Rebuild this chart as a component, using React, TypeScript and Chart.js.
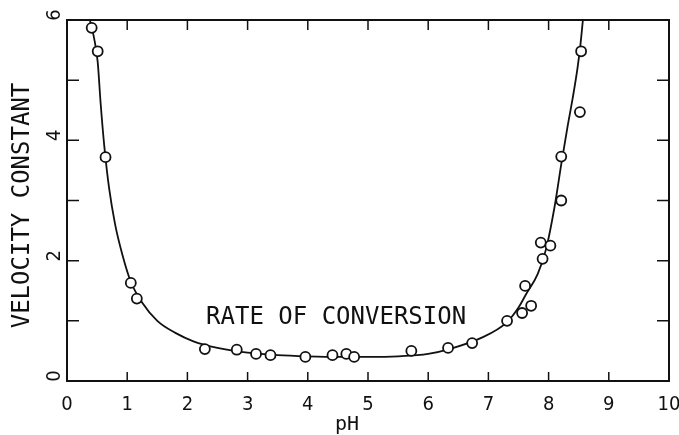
import React, { useEffect, useRef } from 'react';
import { Chart, registerables } from 'chart.js';

Chart.register(...registerables);

// Measured points (pH, velocity constant)
const pointPH = [0.41, 0.51, 0.64, 1.06, 1.16, 2.29, 2.82, 3.14, 3.38, 3.96, 4.41, 4.64, 4.77, 5.72, 6.33, 6.73, 7.31, 7.56, 7.61, 7.71, 7.87, 7.90, 8.03, 8.21, 8.21, 8.52, 8.54];
const pointK = [5.87, 5.48, 3.72, 1.63, 1.37, 0.53, 0.52, 0.45, 0.43, 0.40, 0.43, 0.45, 0.40, 0.50, 0.55, 0.63, 1.00, 1.13, 1.58, 1.25, 2.30, 2.03, 2.25, 3.00, 3.73, 4.47, 5.48];

// Hand-drawn fitted curve
const curvePH = [0.38, 0.45, 0.51, 0.56, 0.62, 0.70, 0.80, 0.92, 1.06, 1.25, 1.5, 1.8, 2.1, 2.5, 3.0, 3.5, 4.0, 4.5, 5.0, 5.5, 6.0, 6.35, 6.89, 7.30, 7.50, 7.63, 7.82, 7.96, 8.10, 8.21, 8.31, 8.40, 8.48, 8.53, 8.57];
const curveK = [6.0, 5.7, 5.3, 4.6, 3.9, 3.2, 2.6, 2.1, 1.65, 1.3, 1.0, 0.8, 0.66, 0.55, 0.47, 0.43, 0.41, 0.40, 0.40, 0.41, 0.45, 0.53, 0.72, 0.97, 1.22, 1.45, 1.78, 2.2, 2.9, 3.6, 4.2, 4.7, 5.2, 5.6, 6.0];

const xTickValues = [0, 1, 2, 3, 4, 5, 6, 7, 8, 9, 10];
const yTickValues = [0, 1, 2, 3, 4, 5, 6];
const yLabelValues = [0, 2, 4, 6];
const yTitle = 'VELOCITY CONSTANT';
const xTitle = 'pH';
const annotationText = 'RATE OF CONVERSION';
const annotationPH = 4.47;
const annotationK = 1.05;

const MONO = '"DejaVu Sans Mono", monospace';
const COND = '"DejaVu Sans Condensed", "DejaVu Sans", sans-serif';

const framePlugin = {
  id: 'frameAndText',
  afterDraw(chart: any) {
    const { ctx, chartArea: a } = chart;
    const xs = chart.scales.x;
    const ys = chart.scales.y;
    ctx.save();
    ctx.strokeStyle = '#111';
    ctx.fillStyle = '#111';
    ctx.lineWidth = 2;
    ctx.strokeRect(a.left, a.top, a.right - a.left, a.bottom - a.top);
    ctx.lineWidth = 1.5;
    ctx.beginPath();
    xTickValues.slice(1, -1).forEach((v) => {
      const px = xs.getPixelForValue(v);
      ctx.moveTo(px, a.bottom);
      ctx.lineTo(px, a.bottom - 9);
      ctx.moveTo(px, a.top);
      ctx.lineTo(px, a.top + 10);
    });
    yTickValues.slice(1, -1).forEach((v) => {
      const py = ys.getPixelForValue(v);
      ctx.moveTo(a.left, py);
      ctx.lineTo(a.left + 12, py);
      ctx.moveTo(a.right, py);
      ctx.lineTo(a.right - 12, py);
    });
    ctx.stroke();

    // rotated y tick labels
    ctx.font = `20px ${COND}`;
    ctx.textAlign = 'center';
    ctx.textBaseline = 'middle';
    yLabelValues.forEach((v) => {
      const py = ys.getPixelForValue(v);
      ctx.save();
      ctx.translate(a.left - 12, py - 5);
      ctx.rotate(-Math.PI / 2);
      ctx.fillText(String(v), 0, 0);
      ctx.restore();
    });

    // y title
    ctx.font = `24px ${MONO}`;
    ctx.save();
    ctx.translate(23, (a.top + a.bottom) / 2 + 5);
    ctx.rotate(-Math.PI / 2);
    ctx.fillText(yTitle, 0, 0);
    ctx.restore();

    // annotation
    ctx.fillText(annotationText, xs.getPixelForValue(annotationPH), ys.getPixelForValue(annotationK));

    // x title
    ctx.font = `20px ${MONO}`;
    ctx.fillText(xTitle, xs.getPixelForValue(4.65), 425);
    ctx.restore();
  },
};

export default function App() {
  const ref = useRef<HTMLCanvasElement>(null);
  useEffect(() => {
    document.body.style.margin = '0';
    const canvas = ref.current;
    if (!canvas) return;
    const chart = new Chart(canvas, {
      type: 'scatter',
      data: {
        datasets: [
          {
            label: 'measured',
            data: pointPH.map((x, i) => ({ x, y: pointK[i] })),
            showLine: false,
            pointStyle: 'circle',
            pointRadius: 5,
            pointBorderWidth: 1.8,
            pointBorderColor: '#111',
            pointBackgroundColor: '#fff',
            order: 0,
          },
          {
            label: 'curve',
            data: curvePH.map((x, i) => ({ x, y: curveK[i] })),
            showLine: true,
            pointRadius: 0,
            borderColor: '#111',
            borderWidth: 1.8,
            cubicInterpolationMode: 'monotone',
            order: 1,
          },
        ],
      },
      options: {
        responsive: false,
        animation: false,
        events: [],
        layout: { padding: { top: 20, right: 10, left: 0, bottom: 0 } },
        plugins: { legend: { display: false }, tooltip: { enabled: false } },
        scales: {
          x: {
            type: 'linear',
            min: 0,
            max: 10,
            grid: { display: false, drawTicks: false },
            border: { display: false },
            afterBuildTicks: (s: any) => {
              s.ticks = xTickValues.map((v) => ({ value: v }));
            },
            afterFit: (s: any) => {
              s.height = 54;
              s.paddingLeft = 0;
              s.paddingRight = 0;
            },
            ticks: {
              color: '#111',
              font: { family: COND, size: 20 },
              padding: 12,
              maxRotation: 0,
              autoSkip: false,
            },
          },
          y: {
            type: 'linear',
            min: 0,
            max: 6,
            grid: { display: false, drawTicks: false },
            border: { display: false },
            ticks: { display: false },
            afterFit: (s: any) => {
              s.width = 67;
              s.paddingTop = 0;
              s.paddingBottom = 0;
            },
          },
        },
      },
      plugins: [framePlugin],
    } as any);
    return () => chart.destroy();
  }, []);
  return (
    <div style={{ width: 679, height: 435 }}>
      <canvas ref={ref} width={679} height={435} />
    </div>
  );
}
